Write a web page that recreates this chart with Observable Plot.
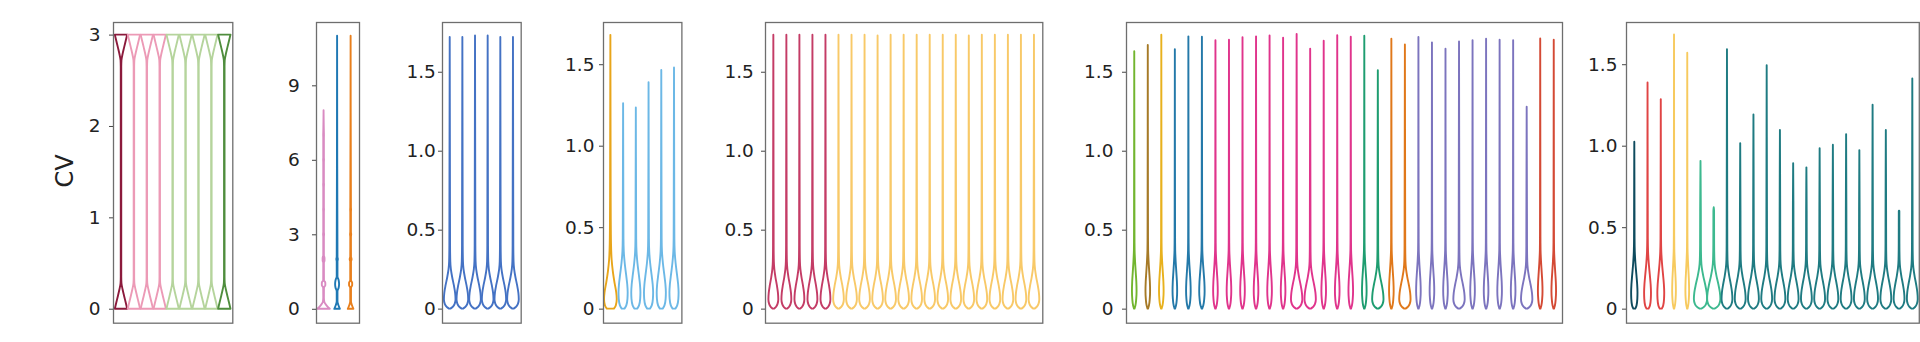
<!DOCTYPE html>
<html><head><meta charset="utf-8">
<script src="https://cdn.jsdelivr.net/npm/d3@7"></script>
<script src="https://cdn.jsdelivr.net/npm/@observablehq/plot@0.6"></script>
<style>
html,body{margin:0;padding:0;background:#fff;}
#root{position:relative;width:1920px;height:342px;overflow:hidden;font-family:"DejaVu Sans",sans-serif;}
#root svg{position:absolute;top:0;}
#ylab{position:absolute;left:65px;top:171px;transform:translate(-50%,-50%) rotate(-90deg);font-size:24px;color:#222;white-space:nowrap;}
</style></head><body><div id="root"><div id="ylab">CV</div></div>
<script>
// ---- violin outline profiles: [CV, relative half-width] ----
const shapeHourglass = [[0,1],[0.07,0.75],[0.14,0.5],[0.21,0.26],[0.28,0.07],[0.35,0.04],[2.65,0.04],[2.72,0.07],[2.79,0.26],[2.86,0.5],[2.93,0.75],[3,1]];
const shapeDrop = [[0,0.12],[0.01,0.5],[0.03,0.85],[0.06,1],[0.1,0.93],[0.15,0.7],[0.2,0.42],[0.25,0.2],[0.3,0.1],[0.4,0.06],[0.6,0.05]];
const shapeNeedle = [[0,0.1],[0.02,0.5],[0.06,0.85],[0.11,1],[0.17,0.9],[0.23,0.65],[0.3,0.35],[0.37,0.15],[0.45,0.1],[0.6,0.08]];
const shapeLoop = [[0,0.3],[0.02,0.7],[0.06,0.95],[0.1,1],[0.15,0.9],[0.21,0.65],[0.28,0.35],[0.35,0.15],[0.43,0.08],[0.6,0.06]];
const shapeGold = [[0,0.55],[0.02,0.85],[0.06,1],[0.1,0.92],[0.16,0.65],[0.23,0.38],[0.3,0.2],[0.4,0.1],[0.55,0.06],[0.8,0.04]];
const shapeDiscPink = [[0,1],[0.1,0.6],[0.2,0.28],[0.3,0.1],[0.45,0.05],[0.85,0.06],[0.95,0.28],[1.05,0.28],[1.15,0.06],[1.85,0.05],[1.95,0.15],[2.05,0.15],[2.15,0.05],[2.9,0.05],[3,0.08],[3.1,0.05],[3.9,0.05],[4,0.07],[4.1,0.05],[4.9,0.05],[5,0.07],[5.1,0.05],[5.9,0.05],[6,0.07],[6.1,0.05],[6.9,0.05],[7,0.06],[7.1,0.05]];
const shapeDiscBlue = [[0,0.45],[0.15,0.2],[0.3,0.06],[0.7,0.06],[0.85,0.25],[1,0.32],[1.15,0.25],[1.3,0.06],[1.9,0.06],[2,0.12],[2.1,0.06]];
const shapeDiscOrange = [[0,0.45],[0.15,0.2],[0.3,0.06],[0.85,0.06],[0.95,0.25],[1.05,0.25],[1.15,0.06],[1.9,0.06],[2,0.15],[2.1,0.06],[2.9,0.05],[3,0.09],[3.1,0.05],[3.9,0.05],[4,0.07],[4.1,0.05]];

// ---- panel 1 ----
const p1Color = ["#8b1a3c","#ec9ab6","#ec9ab6","#ec9ab6","#b5d49c","#b5d49c","#b5d49c","#b5d49c","#4f8d3d"];
const p1Max = [3,3,3,3,3,3,3,3,3];
const p1Shape = Array(9).fill(shapeHourglass);
const p1Half = Array(9).fill(0.48);
const p1Ticks = [0,1,2,3];
// ---- panel 2 ----
const p2Color = ["#d98bc2","#1f78b4","#e87f1c"];
const p2Max = [8,11,11];
const p2Shape = [shapeDiscPink, shapeDiscBlue, shapeDiscOrange];
const p2Half = [0.46,0.46,0.46];
const p2Ticks = [0,3,6,9];
// ---- panel 3 ----
const p3Color = Array(6).fill("#4472c4");
const p3Max = [1.72,1.72,1.73,1.73,1.72,1.72];
const p3Shape = Array(6).fill(shapeDrop);
const p3Half = Array(6).fill(0.46);
// ---- panel 4 ----
const p4Color = ["#e8a51a","#6cb8e6","#6cb8e6","#6cb8e6","#6cb8e6","#6cb8e6"];
const p4Max = [1.68,1.26,1.235,1.39,1.465,1.48];
const p4Shape = [shapeGold, shapeLoop, shapeLoop, shapeLoop, shapeLoop, shapeLoop];
const p4Half = [0.5,0.36,0.36,0.36,0.36,0.36];
// ---- panel 5 ----
const p5Color = [...Array(5).fill("#c43c66"), ...Array(16).fill("#f8c968")];
const p5Max = [1.735,1.735,1.735,1.735,1.735,1.735,1.735,1.735,1.73,1.735,1.735,1.735,1.735,1.735,1.735,1.73,1.735,1.735,1.735,1.735,1.735];
const p5Shape = Array(21).fill(shapeDrop);
const p5Half = [...Array(5).fill(0.38), ...Array(16).fill(0.41)];
// ---- panel 6 ----
const p6Color = ["#72b52f","#a67a27","#e8b11d","#2479a9","#2479a9","#2479a9",
  ...Array(11).fill("#e0348c"), "#1e9d70","#1e9d70","#e0781a","#e0781a",
  ...Array(9).fill("#7c74be"), "#d44a35","#d44a35"];
const p6Max = [1.63,1.67,1.735,1.643,1.724,1.722,1.70,1.703,1.718,1.724,1.73,1.716,1.739,1.646,1.697,1.732,1.722,1.728,1.51,1.709,1.673,1.72,1.686,1.646,1.692,1.699,1.709,1.703,1.70,1.278,1.711,1.703];
const p6Round = [13,14,19,21,25,30];
const p6Shape = p6Max.map((_, k) => p6Round.includes(k + 1) ? shapeDrop : shapeNeedle);
const p6Half = p6Max.map((_, k) => p6Round.includes(k + 1) ? 0.42 : (k === 5 ? 0.2 : 0.17));
// ---- panel 7 ----
const p7Color = ["#0e4b5e","#e04444","#e04444","#f7ca5e","#f7ca5e","#3db98f","#3db98f", ...Array(15).fill("#1f7b82")];
const p7Max = [1.024,1.388,1.286,1.682,1.57,0.907,0.622,1.592,1.016,1.192,1.494,1.097,0.893,0.867,0.985,1.006,1.071,0.973,1.251,1.097,0.601,1.413];
const p7Shape = [shapeLoop, shapeLoop, shapeLoop, shapeNeedle, shapeNeedle, shapeDrop, shapeDrop, ...Array(15).fill(shapeDrop)];
const p7Half = [0.24,0.26,0.26,0.14,0.14,0.5,0.5, ...Array(15).fill(0.41)];
const decTicks = [0,0.5,1,1.5];

function buildRows(colors, maxes, shapes, halves) {
  const rows = [];
  colors.forEach((c, i) => {
    const pts = shapes[i].filter(p => p[0] <= maxes[i]);
    if (pts[pts.length - 1][0] < maxes[i]) pts.push([maxes[i], 0]);
    for (const [v, w] of pts) rows.push({i, c, y: v, x1: i - w * halves[i], x2: i + w * halves[i]});
  });
  return rows;
}

const root = document.getElementById("root");
function panel(o) {
  const rows = buildRows(o.colors, o.maxes, o.shapes, o.halves);
  const ML = 60, MR = 1.5;
  const svg = Plot.plot({
    width: ML + (o.R - o.L) + MR, height: 342,
    marginLeft: ML, marginRight: MR, marginTop: 22, marginBottom: 19.3,
    x: {domain: o.xdom, axis: null},
    y: {domain: o.ydom},
    color: {type: "identity"},
    style: {fontFamily: "DejaVu Sans", background: "transparent", color: "#222", overflow: "visible"},
    marks: [
      Plot.areaX(rows, {y: "y", x1: "x1", x2: "x2", z: "i", stroke: "c", fill: "none", strokeWidth: 1.9, curve: "monotone-y", strokeLinejoin: "round"}),
      Plot.frame({stroke: "#6e6e6e", strokeWidth: 1.3}),
      Plot.axisY({ticks: o.ticks, tickFormat: o.fmt, tickSize: 4, tickPadding: o.pad, fontSize: 18.5, label: null, stroke: "#444"})
    ]
  });
  svg.style.left = (o.L - ML) + "px";
  root.appendChild(svg);
}
const intFmt = d => String(d);
const decFmt = d => d === 0 ? "0" : d.toFixed(1);

panel({colors: p1Color, maxes: p1Max, shapes: p1Shape, halves: p1Half, L: 112.7, R: 232, xdom: [-0.62, 8.62], ydom: [-0.153, 3.138], ticks: p1Ticks, fmt: intFmt, pad: 9});
panel({colors: p2Color, maxes: p2Max, shapes: p2Shape, halves: p2Half, L: 315.7, R: 358.7, xdom: [-0.56, 2.62], ydom: [-0.56, 11.55], ticks: p2Ticks, fmt: intFmt, pad: 12.7});
panel({colors: p3Color, maxes: p3Max, shapes: p3Shape, halves: p3Half, L: 442, R: 520.7, xdom: [-0.61, 5.61], ydom: [-0.089, 1.815], ticks: decTicks, fmt: decFmt, pad: 2.7});
panel({colors: p4Color, maxes: p4Max, shapes: p4Shape, halves: p4Half, L: 603.3, R: 681.7, xdom: [-0.58, 5.58], ydom: [-0.086, 1.759], ticks: decTicks, fmt: decFmt, pad: 5});
panel({colors: p5Color, maxes: p5Max, shapes: p5Shape, halves: p5Half, L: 765, R: 1042.3, xdom: [-0.64, 20.64], ydom: [-0.089, 1.815], ticks: decTicks, fmt: decFmt, pad: 7.7});
panel({colors: p6Color, maxes: p6Max, shapes: p6Shape, halves: p6Half, L: 1125.7, R: 1561.7, xdom: [-0.61, 31.61], ydom: [-0.089, 1.815], ticks: decTicks, fmt: decFmt, pad: 9});
panel({colors: p7Color, maxes: p7Max, shapes: p7Shape, halves: p7Half, L: 1625.7, R: 1918.5, xdom: [-0.627, 21.49], ydom: [-0.086, 1.759], ticks: decTicks, fmt: decFmt, pad: 5});
</script>
</body></html>
